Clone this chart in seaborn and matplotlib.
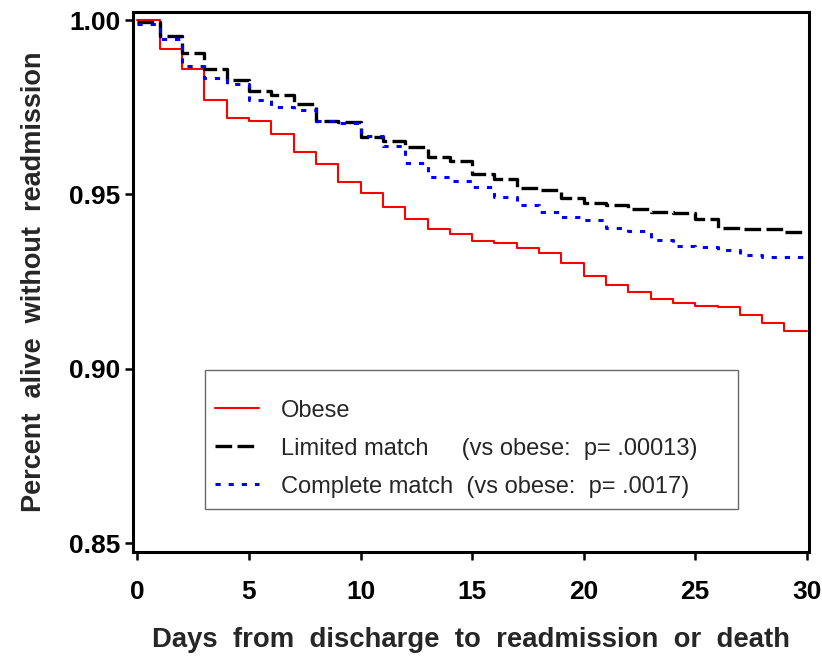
import seaborn as sns
import matplotlib.pyplot as plt
import pandas as pd
from matplotlib.lines import Line2D

# Kaplan-Meier style step values (day 0..30)
days = list(range(31))
obese = [1.0000, 0.9917, 0.9861, 0.9771, 0.9719, 0.9710, 0.9674, 0.9621, 0.9588, 0.9536,
         0.9505, 0.9464, 0.9431, 0.9402, 0.9387, 0.9368, 0.9361, 0.9346, 0.9331, 0.9304,
         0.9266, 0.9240, 0.9219, 0.9200, 0.9189, 0.9180, 0.9176, 0.9155, 0.9131, 0.9109,
         0.9109]
limited = [0.9995, 0.9954, 0.9905, 0.9859, 0.9829, 0.9798, 0.9784, 0.9760, 0.9712, 0.9708,
           0.9664, 0.9652, 0.9635, 0.9608, 0.9597, 0.9560, 0.9543, 0.9519, 0.9512, 0.9490,
           0.9476, 0.9471, 0.9457, 0.9450, 0.9446, 0.9429, 0.9403, 0.9401, 0.9400, 0.9392,
           0.9392]
complete = [0.9988, 0.9945, 0.9869, 0.9833, 0.9817, 0.9770, 0.9750, 0.9743, 0.9712, 0.9705,
            0.9667, 0.9638, 0.9590, 0.9550, 0.9538, 0.9522, 0.9492, 0.9469, 0.9450, 0.9436,
            0.9426, 0.9403, 0.9395, 0.9370, 0.9352, 0.9350, 0.9341, 0.9327, 0.9322, 0.9320,
            0.9320]

groups = ['Obese', 'Limited match', 'Complete match']
legend_labels = ['Obese',
                 'Limited match     (vs obese:  p= .00013)',
                 'Complete match  (vs obese:  p= .0017)']
y_ticks = [0.85, 0.90, 0.95, 1.00]
x_ticks = [0, 5, 10, 15, 20, 25, 30]

df = pd.DataFrame({
    'day': days * 3,
    'surv': obese + limited + complete,
    'group': [g for g in groups for _ in days],
})

sns.set_theme(style='white')
plt.rcParams['font.family'] = ['Liberation Sans', 'DejaVu Sans']

fig = plt.figure(figsize=(8.22, 6.6), dpi=100)
ax = fig.add_axes([0.1618, 0.1636, 0.8224, 0.8182])

styles = {
    'Obese': dict(color='#ff0000', lw=1.5, dashes=None),
    'Limited match': dict(color='black', lw=2.4, dashes=(5.0, 1.6)),
    'Complete match': dict(color='#0000ff', lw=2.2, dashes=(1.7, 2.6)),
}

handles = []
for g in groups:
    st = styles[g]
    sub = df[df['group'] == g]
    kw = dict(color=st['color'], linewidth=st['lw'])
    if st['dashes'] is not None:
        kw['dashes'] = st['dashes']
    sns.lineplot(data=sub, x='day', y='surv', ax=ax, drawstyle='steps-post',
                 estimator=None, legend=False, **kw)
    handles.append(Line2D([], [], **kw))

ax.set_xlim(-0.2, 30.1)
ax.set_ylim(0.8475, 1.0023)
ax.set_xticks(x_ticks)
ax.set_xticklabels([str(t) for t in x_ticks])
ax.set_yticks(y_ticks)
ax.set_yticklabels([f'{t:.2f}' for t in y_ticks])

for s in ax.spines.values():
    s.set_color('black')
    s.set_linewidth(2.2)

ax.tick_params(axis='both', which='major', direction='out', length=6, width=1.8,
               colors='black', labelsize=19, bottom=True, left=True, top=False, right=False)
ax.tick_params(axis='x', pad=14)
ax.tick_params(axis='y', pad=3)
for lab in ax.get_xticklabels() + ax.get_yticklabels():
    lab.set_fontweight('bold')

ax.set_xlabel('Days  from  discharge  to  readmission  or  death', fontsize=19.8,
              fontweight='bold', labelpad=17)
ax.set_ylabel('Percent  alive  without  readmission', fontsize=19.5,
              fontweight='bold', labelpad=16)

leg = ax.legend(handles, legend_labels, loc='upper left',
                bbox_to_anchor=(0.106, 0.337, 0.789, 0.0), mode='expand',
                title=' ', title_fontsize=3,
                fontsize=17, frameon=True, fancybox=False, handlelength=1.86,
                handleheight=1.0, handletextpad=0.93, labelspacing=0.6,
                borderpad=0.45, borderaxespad=0)
leg.get_frame().set_edgecolor('#444444')
leg.get_frame().set_linewidth(1.0)

fig.savefig('out.png', dpi=100)
